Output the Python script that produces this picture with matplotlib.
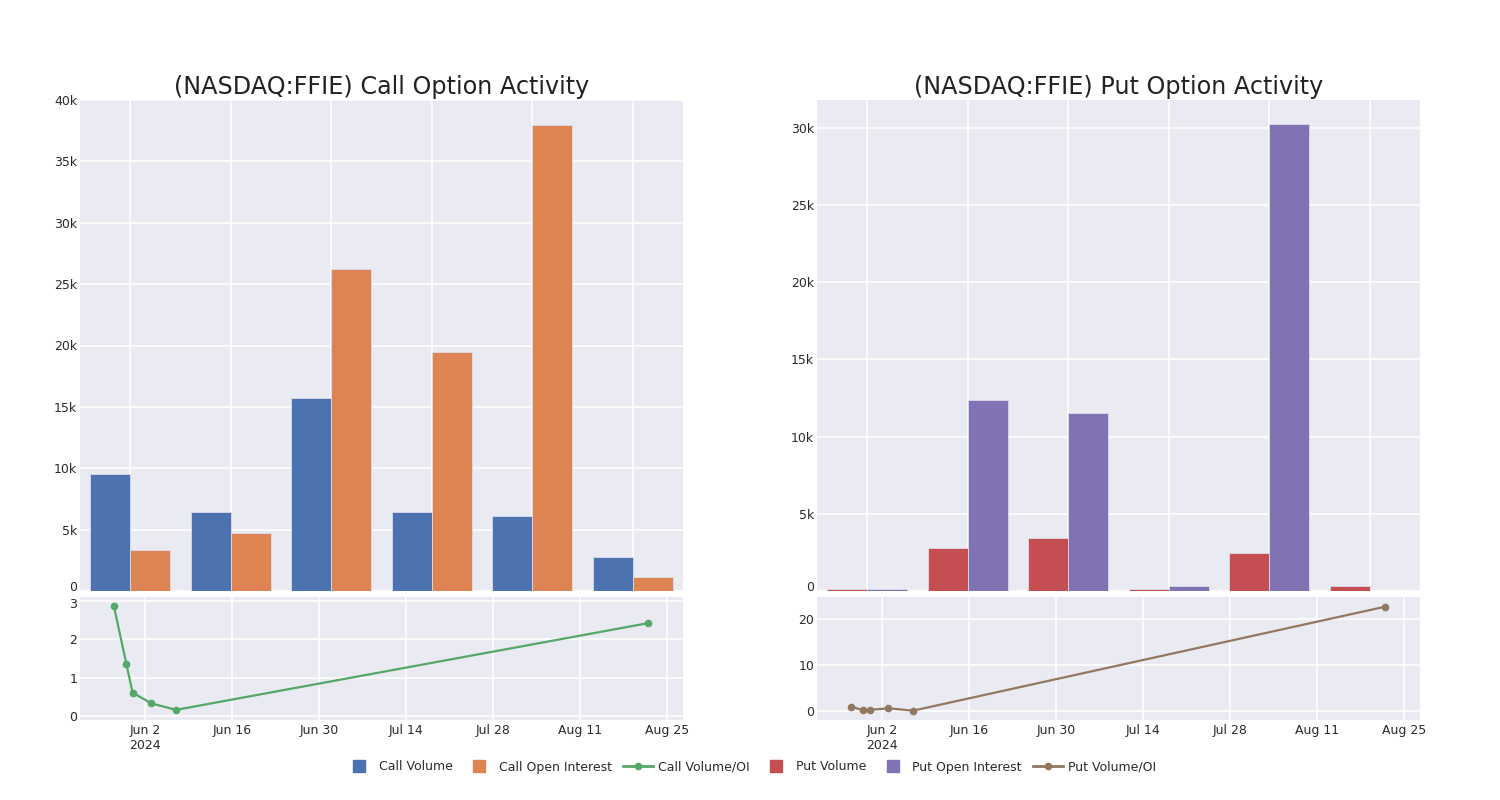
import matplotlib
matplotlib.use("Agg")
import matplotlib.pyplot as plt
from matplotlib.lines import Line2D
import numpy as np
import pandas as pd

plt.rcParams['font.family'] = ['DejaVu Sans']

# ---- data ----
categories = ["2024-05-28", "2024-05-30", "2024-05-31", "2024-06-03", "2024-06-07", "2024-08-22"]
call_volume = [9550, 6450, 15700, 6400, 6150, 2800]
call_oi = [3300, 4750, 26200, 19500, 38000, 1150]
put_volume = [150, 2800, 3450, 150, 2450, 330]
put_oi = [150, 12350, 11550, 330, 30250, 15]
ratio_dates = ["2024-05-28", "2024-05-30", "2024-05-31", "2024-06-03", "2024-06-07", "2024-08-22"]
call_ratio = [2.86, 1.36, 0.61, 0.33, 0.16, 2.42]
put_ratio = [0.95, 0.15, 0.22, 0.59, 0.07, 22.7]
call_yticks = [0, 5000, 10000, 15000, 20000, 25000, 30000, 35000, 40000]
put_yticks = [0, 5000, 10000, 15000, 20000, 25000, 30000]
date_ticks = ["2024-06-02", "2024-06-16", "2024-06-30", "2024-07-14", "2024-07-28", "2024-08-11", "2024-08-25"]

BG = "#EAEAF2"
C_CV, C_COI, C_CR = "#4C72B0", "#DD8452", "#55A868"
C_PV, C_POI, C_PR = "#C44E52", "#8172B3", "#937860"
TICK_C = "#2a2a2a"
FS = 9

fig = plt.figure(figsize=(15, 8), dpi=100)
W, H = 1500, 800

def ax_px(x0, x1, y0, y1):
    return fig.add_axes([x0 / W, 1 - y1 / H, (x1 - x0) / W, (y1 - y0) / H])

def style(ax):
    ax.set_facecolor(BG)
    for s in ax.spines.values():
        s.set_visible(False)
    ax.grid(True, color="white", linewidth=1.1)
    ax.set_axisbelow(True)
    ax.tick_params(length=0, labelsize=FS, colors=TICK_C)
    ax.tick_params(axis="y", pad=2)
    ax.tick_params(axis="x", pad=3)

def kfmt(v):
    return "0" if v == 0 else f"{int(v/1000)}k"

def ylabel_manual(ax, value, text, dy):
    # draw one y tick label by hand, nudged vertically by dy points
    ax.annotate(text, xy=(0, value), xycoords=ax.get_yaxis_transform(),
                xytext=(-2, dy), textcoords="offset points",
                ha="right", va="center", fontsize=FS, color=TICK_C,
                annotation_clip=False)

def bar_panel(ax, v1, v2, c1, c2, yticks, ymax, title):
    style(ax)
    x = np.arange(len(categories))
    w = 0.4
    ax.bar(x - w / 2, v1, w, color=c1, edgecolor="#dcdcec", linewidth=0.6)
    ax.bar(x + w / 2, v2, w, color=c2, edgecolor="#dcdcec", linewidth=0.6)
    ax.set_xlim(-0.5, len(categories) - 0.5)
    ax.set_ylim(0, ymax)
    ax.set_xticks(x)
    ax.set_xticklabels([])
    ax.set_yticks(yticks)
    labels = [kfmt(v) for v in yticks]
    labels[0] = ""
    ax.set_yticklabels(labels)
    ylabel_manual(ax, 0, "0", 2.5)
    ax.set_title(title, fontsize=17.2, color="#222222", pad=4)

def line_panel(ax, vals, color, ylim, yticks, top_nudge):
    style(ax)
    d = pd.to_datetime(ratio_dates)
    ax.plot(d, vals, color=color, linewidth=1.6, marker="o", markersize=4.5)
    ax.set_xlim(pd.Timestamp("2024-05-22 13:00"), pd.Timestamp("2024-08-27 14:00"))
    ax.set_ylim(*ylim)
    ax.set_yticks(yticks)
    labels = [str(v) for v in yticks]
    if top_nudge:
        labels[-1] = ""
        ylabel_manual(ax, yticks[-1], str(yticks[-1]), -2.5)
    ax.set_yticklabels(labels)
    td = pd.to_datetime(date_ticks)
    ax.set_xticks(td)
    xl = [t.strftime("%b ") + str(t.day) for t in td]
    xl[0] = xl[0] + "\n2024"
    ax.set_xticklabels(xl)

ax1 = ax_px(80, 683, 100, 591)
bar_panel(ax1, call_volume, call_oi, C_CV, C_COI, call_yticks, 40000,
          "(NASDAQ:FFIE) Call Option Activity")
ax2 = ax_px(80, 683, 597, 720)
line_panel(ax2, call_ratio, C_CR, (-0.104, 3.10), [0, 1, 2, 3], True)

ax3 = ax_px(817, 1420, 100, 591)
bar_panel(ax3, put_volume, put_oi, C_PV, C_POI, put_yticks, 31800,
          "(NASDAQ:FFIE) Put Option Activity")
ax4 = ax_px(817, 1420, 597, 720)
line_panel(ax4, put_ratio, C_PR, (-1.96, 24.8), [0, 10, 20], False)

def sq(c, lab):
    return Line2D([0], [0], color=c, marker="s", markersize=8.6, linestyle="None", label=lab)

def ln(c, lab):
    return Line2D([0], [0], color=c, marker="o", markersize=4.5, linewidth=2, label=lab)

handles = [
    sq(C_CV, "Call Volume"),
    sq(C_COI, "Call Open Interest"),
    ln(C_CR, "Call Volume/OI"),
    sq(C_PV, "Put Volume"),
    sq(C_POI, "Put Open Interest"),
    ln(C_PR, "Put Volume/OI"),
]
fig.legend(handles=handles, loc="center", bbox_to_anchor=(0.5, 1 - 767 / H), ncol=6,
           frameon=False, fontsize=FS, handlelength=2.4, borderaxespad=0,
           columnspacing=0.9, handletextpad=0.4, labelcolor="#2a2a2a")

fig.savefig("out.png", dpi=100, facecolor="white")
